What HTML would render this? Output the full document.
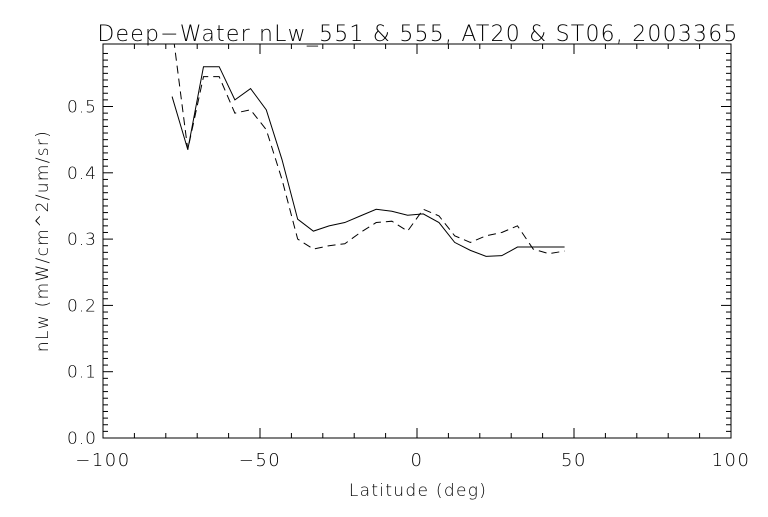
<!DOCTYPE html>
<html><head><meta charset="utf-8"><style>
html,body{margin:0;padding:0;background:#fff}
text{font-family:"DejaVu Sans","Liberation Sans",sans-serif;fill:#000;font-weight:300}
</style></head><body>
<svg id="chart" width="768" height="512" xmlns="http://www.w3.org/2000/svg">
<defs><clipPath id="clip"><rect x="103" y="44" width="628" height="394"/></clipPath></defs>
<text x="418" y="41" text-anchor="middle" font-size="22" letter-spacing="1.2">Deep−Water nLw_551 &amp; 555, AT20 &amp; ST06, 2003365</text>
<text x="418" y="496" text-anchor="middle" font-size="17" letter-spacing="1.3">Latitude (deg)</text>
<text transform="translate(48,241) rotate(-90)" text-anchor="middle" font-size="17" letter-spacing="1.3">nLw (mW/cm^2/um/sr)</text>
<rect x="103" y="44" width="628" height="394" fill="none" stroke="#000" stroke-width="1"/>
<g id="axes"></g>
<g id="series" clip-path="url(#clip)"></g>
</svg>
<script>
const lats = [-78,-73,-68,-63,-58,-53,-48,-43,-38,-33,-28,-23,-18,-13,-8,-3,2,7,12,17,22,27,32,37,42,47];
const nlw551 = [0.515,0.435,0.56,0.56,0.51,0.527,0.495,0.42,0.33,0.312,0.32,0.325,0.335,0.345,0.342,0.336,0.338,0.325,0.295,0.283,0.274,0.275,0.288,0.288,0.288,0.288];
const nlw555 = [0.62,0.435,0.545,0.545,0.49,0.495,0.465,0.39,0.30,0.285,0.29,0.293,0.31,0.325,0.327,0.312,0.345,0.335,0.305,0.295,0.305,0.31,0.32,0.285,0.278,0.282];
const xTicks = [-100,-50,0,50,100];
const yTicks = [0.0,0.1,0.2,0.3,0.4,0.5];
const X0=103,X1=731,Y0=438,PPU=663;
function sx(v){return X0+(v+100)/200*(X1-X0);}
function sy(v){return Y0-v*PPU;}
const NS="http://www.w3.org/2000/svg";
const axes=document.getElementById('axes'), series=document.getElementById('series');
function ln(p,x1,y1,x2,y2,name){const l=document.createElementNS(NS,'line');l.setAttribute('x1',x1);l.setAttribute('y1',y1);l.setAttribute('x2',x2);l.setAttribute('y2',y2);l.setAttribute('stroke','#000');


p.appendChild(l);}
for(let v=-100;v<=100;v+=10){const x=sx(v),big=v%50===0;ln(axes,x,Y0,x,Y0-(big?10:5),'x-tick');ln(axes,x,44,x,44+(big?10:5),'x-tick-top');}
for(let v=0;v<=0.59;v+=0.01){const y=sy(v),big=Math.round(v*100)%10===0;ln(axes,X0,y,X0+(big?10:5),y,'y-tick');ln(axes,X1,y,X1-(big?10:5),y,'y-tick-right');}
xTicks.forEach(v=>{const t=document.createElementNS(NS,'text');t.setAttribute('x',sx(v));t.setAttribute('y',Y0+28);t.setAttribute('text-anchor','middle');t.setAttribute('font-size','18');t.setAttribute('letter-spacing','1.5');t.textContent=(v<0?'−':'')+Math.abs(v);


axes.appendChild(t);});
yTicks.forEach(v=>{const t=document.createElementNS(NS,'text');t.setAttribute('x',X0-6);t.setAttribute('y',sy(v)+6);t.setAttribute('text-anchor','end');t.setAttribute('font-size','17');t.setAttribute('letter-spacing','1');t.textContent=v.toFixed(1);


axes.appendChild(t);});
function poly(vals,dash,name){const p=document.createElementNS(NS,'polyline');p.setAttribute('points',lats.map((l,i)=>sx(l)+','+sy(vals[i])).join(' '));p.setAttribute('fill','none');p.setAttribute('stroke','#000');p.setAttribute('stroke-width','1');if(dash)p.setAttribute('stroke-dasharray','8,5');


series.appendChild(p);}
poly(nlw551,false,'series-nlw551');
poly(nlw555,true,'series-nlw555');
</script>
</body></html>
